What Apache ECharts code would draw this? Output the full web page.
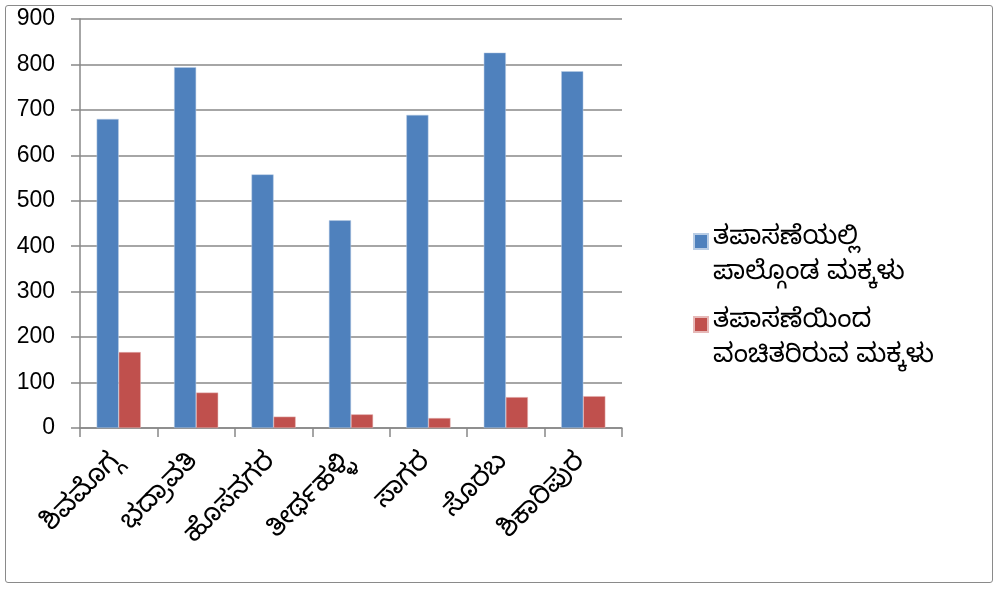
<!DOCTYPE html>
<html><head><meta charset="utf-8">
<script src="https://cdn.jsdelivr.net/npm/echarts@6/dist/echarts.min.js"></script>
<style>html,body{margin:0;padding:0;background:#fff}#c{width:995px;height:589px}
#frame{position:absolute;left:5px;top:5px;width:988px;height:578px;border:1.5px solid #8a8a8a;border-radius:3px;box-sizing:border-box;pointer-events:none}</style>
</head><body><div id="c"></div><div id="frame"></div>
<script>
const categories = ['ಶಿವಮೊಗ್ಗ','ಭದ್ರಾವತಿ','ಹೊಸನಗರ','ತೀರ್ಥಹಳ್ಳಿ','ಸಾಗರ','ಸೊರಬ','ಶಿಕಾರಿಪುರ'];
const seriesNames = ['ತಪಾಸಣೆಯಲ್ಲಿ\nಪಾಲ್ಗೊಂಡ ಮಕ್ಕಳು','ತಪಾಸಣೆಯಿಂದ\nವಂಚಿತರಿರುವ ಮಕ್ಕಳು'];
const attended = [680, 794, 558, 457, 689, 826, 785];
const missed = [167, 78, 25, 30, 22, 68, 70];
const yTicks = {min:0, max:900, interval:100};
const font = "'Noto Sans Kannada','Noto Sans','Lato','DejaVu Sans',sans-serif";
const numFont = "'Liberation Sans','DejaVu Sans',sans-serif";
const legendText = {fontSize:26, color:'#000', lineHeight:35, fontFamily:font};
const legendFmt = n => ' \n' + n;
const chart = echarts.init(document.getElementById('c'));
chart.setOption({
  animation:false,
  textStyle:{fontFamily:font},
  grid:{left:80, top:19, width:542, height:409, containLabel:false},
  legend:[
    {orient:'vertical', left:693, top:189, padding:0, itemWidth:14, itemHeight:15, icon:'rect',
     textStyle:legendText, formatter:legendFmt, data:[seriesNames[0]]},
    {orient:'vertical', left:693, top:272, padding:0, itemWidth:14, itemHeight:15, icon:'rect',
     textStyle:legendText, formatter:legendFmt, data:[seriesNames[1]]}
  ],
  xAxis:{
    type:'category', data:categories,
    axisLine:{lineStyle:{color:'#888', width:1.5}},
    axisTick:{show:true, length:9, lineStyle:{color:'#888', width:1.5}},
    axisLabel:{rotate:45, fontSize:27, color:'#000', margin:32, interval:0}
  },
  yAxis:{
    type:'value', min:yTicks.min, max:yTicks.max, interval:yTicks.interval,
    axisLine:{show:true, lineStyle:{color:'#888', width:1.5}},
    axisTick:{show:true, length:9, lineStyle:{color:'#888', width:1.5}},
    splitLine:{lineStyle:{color:'#888', width:1.5}},
    axisLabel:{fontSize:23, color:'#000', margin:25, fontFamily:numFont}
  },
  series:[
    {name:seriesNames[0], type:'bar', data:attended, barGap:'0%', barCategoryGap:'43%',
     itemStyle:{color:'#4f81bd', borderColor:'#b9cde5', borderWidth:0.5}},
    {name:seriesNames[1], type:'bar', data:missed, barGap:'0%', barCategoryGap:'43%',
     itemStyle:{color:'#c0504d', borderColor:'#e6b9b8', borderWidth:0.5}}
  ]
});
</script></body></html>
